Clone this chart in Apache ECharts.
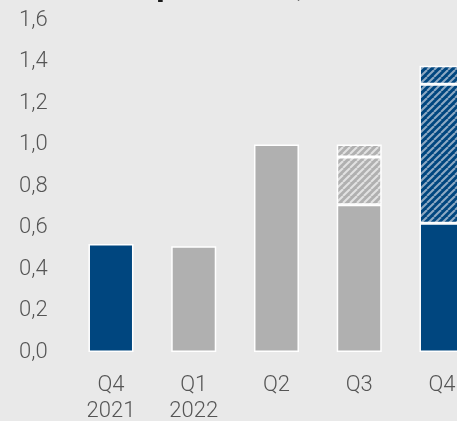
<!DOCTYPE html>
<html>
<head>
<meta charset="utf-8">
<style>
  html, body { margin: 0; padding: 0; background: #e9e9e9; }
  #chart { width: 457px; height: 421px; }
</style>
<script src="https://cdn.jsdelivr.net/npm/echarts@6/dist/echarts.min.js"></script>
</head>
<body>
<div id="chart"></div>
<script>
// Quarters shown on the x axis
const categories = ['Q4\n2021', 'Q1\n2022', 'Q2', 'Q3', 'Q4'];
// Reported (solid) part of each bar
const baseValues = [0.52, 0.51, 1.00, 0.71, 0.62];
// First and second hatched add-ons (Q3 and Q4 only)
const extraValues1 = [null, null, null, 0.23, 0.67];
const extraValues2 = [null, null, null, 0.06, 0.09];
// Colour group of each bar: blue for Q4 bars, grey otherwise
const barGroups = ['blue', 'grey', 'grey', 'grey', 'blue'];
const yTicks = ['0,0', '0,2', '0,4', '0,6', '0,8', '1,0', '1,2', '1,4', '1,6'];

const BLUE = '#00467f';
const GREY = '#b0b0b0';

// Diagonal stripe tile used for the hatched segments
function stripes(bg, fg) {
  const s = 7;
  const c = document.createElement('canvas');
  c.width = s; c.height = s;
  const g = c.getContext('2d');
  g.fillStyle = bg;
  g.fillRect(0, 0, s, s);
  g.strokeStyle = fg;
  g.lineWidth = 2;
  for (let k = -1; k <= 1; k++) {
    g.beginPath();
    g.moveTo(k * s, s);
    g.lineTo(k * s + s, 0);
    g.stroke();
  }
  return { image: c, repeat: 'repeat' };
}
const hatch = {
  blue: stripes(BLUE, '#8eaac4'),
  grey: stripes(GREY, '#e2e2e2')
};
const solid = { blue: BLUE, grey: GREY };

function seriesData(values, hatched) {
  return values.map((v, i) => v == null ? null : {
    value: v,
    itemStyle: { color: hatched ? hatch[barGroups[i]] : solid[barGroups[i]] }
  });
}

const barCommon = {
  type: 'bar',
  stack: 'total',
  barWidth: 45,
  itemStyle: { borderColor: '#ffffff', borderWidth: 1.5 },
  emphasis: { disabled: true }
};

const labelFont = { fontFamily: 'Roboto', fontWeight: 300, fontSize: 22, color: '#555555' };

const chart = echarts.init(document.getElementById('chart'));
chart.setOption({
  backgroundColor: '#e9e9e9',
  animation: false,
  title: {
    text: 'Dividend per share, €',
    left: 14,
    top: -35,
    textStyle: { fontFamily: 'Roboto', fontWeight: 'bold', fontSize: 33, color: '#1a1a1a' }
  },
  // the plot runs past the right edge, so the last bar is cut off
  grid: {
    left: 69.6, width: 413.75, top: 20, bottom: 69,
    containLabel: false, outerBoundsMode: 'none'
  },
  xAxis: {
    type: 'category',
    data: categories,
    axisLine: { show: false },
    axisTick: { show: false },
    axisLabel: Object.assign({ margin: 20, lineHeight: 26 }, labelFont)
  },
  yAxis: {
    type: 'value',
    min: 0,
    max: 1.6,
    interval: 0.2,
    splitLine: { show: false },
    axisLine: { show: false },
    axisTick: { show: false },
    axisLabel: Object.assign({
      margin: 22,
      formatter: (v) => yTicks[Math.round(v / 0.2)]
    }, labelFont)
  },
  series: [
    Object.assign({ name: 'base', data: seriesData(baseValues, false) }, barCommon),
    Object.assign({ name: 'extra1', data: seriesData(extraValues1, true) }, barCommon),
    Object.assign({ name: 'extra2', data: seriesData(extraValues2, true) }, barCommon)
  ]
});
</script>
</body>
</html>
